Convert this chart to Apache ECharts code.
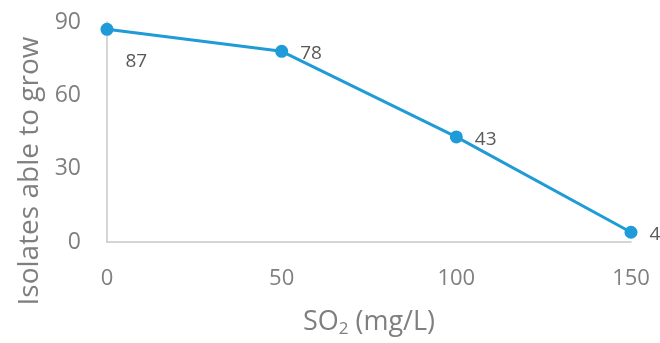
<!DOCTYPE html>
<html><head><meta charset="utf-8">
<script src="https://cdn.jsdelivr.net/npm/echarts@6/dist/echarts.min.js"></script>
<style>html,body{margin:0;padding:0;background:#fff}#c{width:660px;height:343px}</style>
</head><body><div id="c"></div>
<script>
const so2 = [0, 50, 100, 150];
const isolates = [87, 78, 43, 4];
const xTicks = [0, 50, 100, 150];
const yTicks = [0, 30, 60, 90];
const FONT = '"Open Sans", sans-serif';
const labelOffsets = [[2, 32], [2, 2], [2, 3], [2, 2]];
const chart = echarts.init(document.getElementById('c'));
chart.setOption({
  animation: false,
  grid: {left: 107, right: 29, top: 22, bottom: 101},
  xAxis: {
    type: 'value', min: 0, max: 150, interval: 50,
    name: '{a|SO}{s|2}{a| (mg/L)}', nameLocation: 'middle', nameGap: 65,
    nameTextStyle: {rich: {
      a: {fontFamily: FONT, fontSize: 27, color: '#7f7f7f'},
      s: {fontFamily: FONT, fontSize: 17, color: '#7f7f7f', padding: [14, 0, 0, 0]}
    }},
    axisLine: {show: true, lineStyle: {color: '#c8c8c8', width: 1.5}},
    axisTick: {show: false}, splitLine: {show: false},
    axisLabel: {margin: 26, fontFamily: FONT, fontSize: 22, color: '#7f7f7f'}
  },
  yAxis: {
    type: 'value', min: 0, max: 90, interval: 30,
    name: 'Isolates able to grow', nameLocation: 'middle', nameGap: 61,
    nameTextStyle: {fontFamily: FONT, fontSize: 28, color: '#7f7f7f', padding: [0, 78, 0, 0]},
    axisLine: {show: true, lineStyle: {color: '#c8c8c8', width: 1.5}},
    axisTick: {show: false}, splitLine: {show: false},
    axisLabel: {margin: 26, fontFamily: FONT, fontSize: 23, color: '#7f7f7f'}
  },
  series: [{
    type: 'line',
    data: so2.map((x, i) => ({
      value: [x, isolates[i]],
      label: {offset: labelOffsets[i]}
    })),
    lineStyle: {color: '#1f9bd7', width: 3},
    itemStyle: {color: '#1f9bd7'},
    symbol: 'circle', symbolSize: 13,
    label: {show: true, position: 'right', distance: 10, fontFamily: FONT, fontSize: 19, color: '#595959',
      formatter: p => p.value[1]}
  }]
});
</script></body></html>
